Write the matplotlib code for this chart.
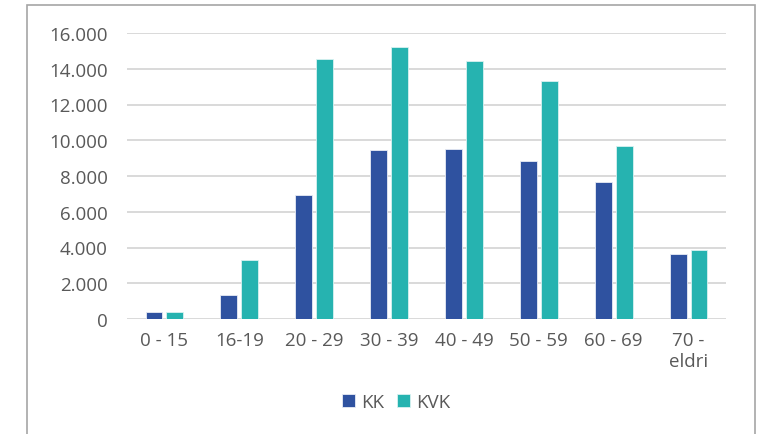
import matplotlib
matplotlib.use("Agg")
import matplotlib.pyplot as plt
import numpy as np
from matplotlib.patches import Rectangle
from matplotlib.ticker import FuncFormatter

categories = ["0 - 15", "16-19", "20 - 29", "30 - 39", "40 - 49", "50 - 59", "60 - 69", "70 -\neldri"]
kk = [410, 1360, 6950, 9460, 9530, 8820, 7650, 3640]
kvk = [380, 3320, 14530, 15200, 14450, 13320, 9660, 3860]

c_kk = "#2F52A0"
c_kvk = "#26B3B0"
txt = "#595959"

plt.rcParams['font.family'] = ['Open Sans', 'DejaVu Sans']

W, H = 774, 435
fig = plt.figure(figsize=(W/100, H/100), dpi=100)
ax = fig.add_axes([127/W, 1-320/H, (726-127)/W, (320-34)/H])

x = np.arange(len(categories))
bw = 0.225
gap = 0.055
ax.bar(x - (bw+gap)/2, kk, width=bw, color=c_kk, edgecolor="#E8ECF5", linewidth=0.6, label="KK", zorder=3)
ax.bar(x + (bw+gap)/2, kvk, width=bw, color=c_kvk, edgecolor="#D8F2F1", linewidth=0.6, label="KVK", zorder=3)

ax.set_xlim(-0.5, len(categories)-0.5)
ax.set_ylim(0, 16000)
ax.set_yticks(np.arange(0, 16001, 2000))
ax.yaxis.set_major_formatter(FuncFormatter(lambda v, p: f"{int(v):,}".replace(",", ".")))
ax.set_xticks(x)
ax.set_xticklabels(categories)
ax.grid(axis='y', color="#D9D9D9", linewidth=1.4, zorder=0)
ax.set_axisbelow(True)
for s in ax.spines.values():
    s.set_visible(False)
ax.tick_params(axis='both', length=0, colors=txt, labelsize=13.5)
ax.tick_params(axis='y', pad=14)
ax.tick_params(axis='x', pad=9)

leg = fig.legend(loc='center', bbox_to_anchor=(396/W, 1-403/H), ncol=2, frameon=False,
                 fontsize=13.5, handlelength=0.7, handleheight=0.7, handletextpad=0.3,
                 columnspacing=0.7)
for t in leg.get_texts():
    t.set_color(txt)

fig.patches.append(Rectangle((27/W, -0.05), (755-27)/W, 1-6/H+0.05, transform=fig.transFigure,
                             fill=False, edgecolor="#A6A6A6", linewidth=1.2))

fig.savefig("out.png", dpi=100)
